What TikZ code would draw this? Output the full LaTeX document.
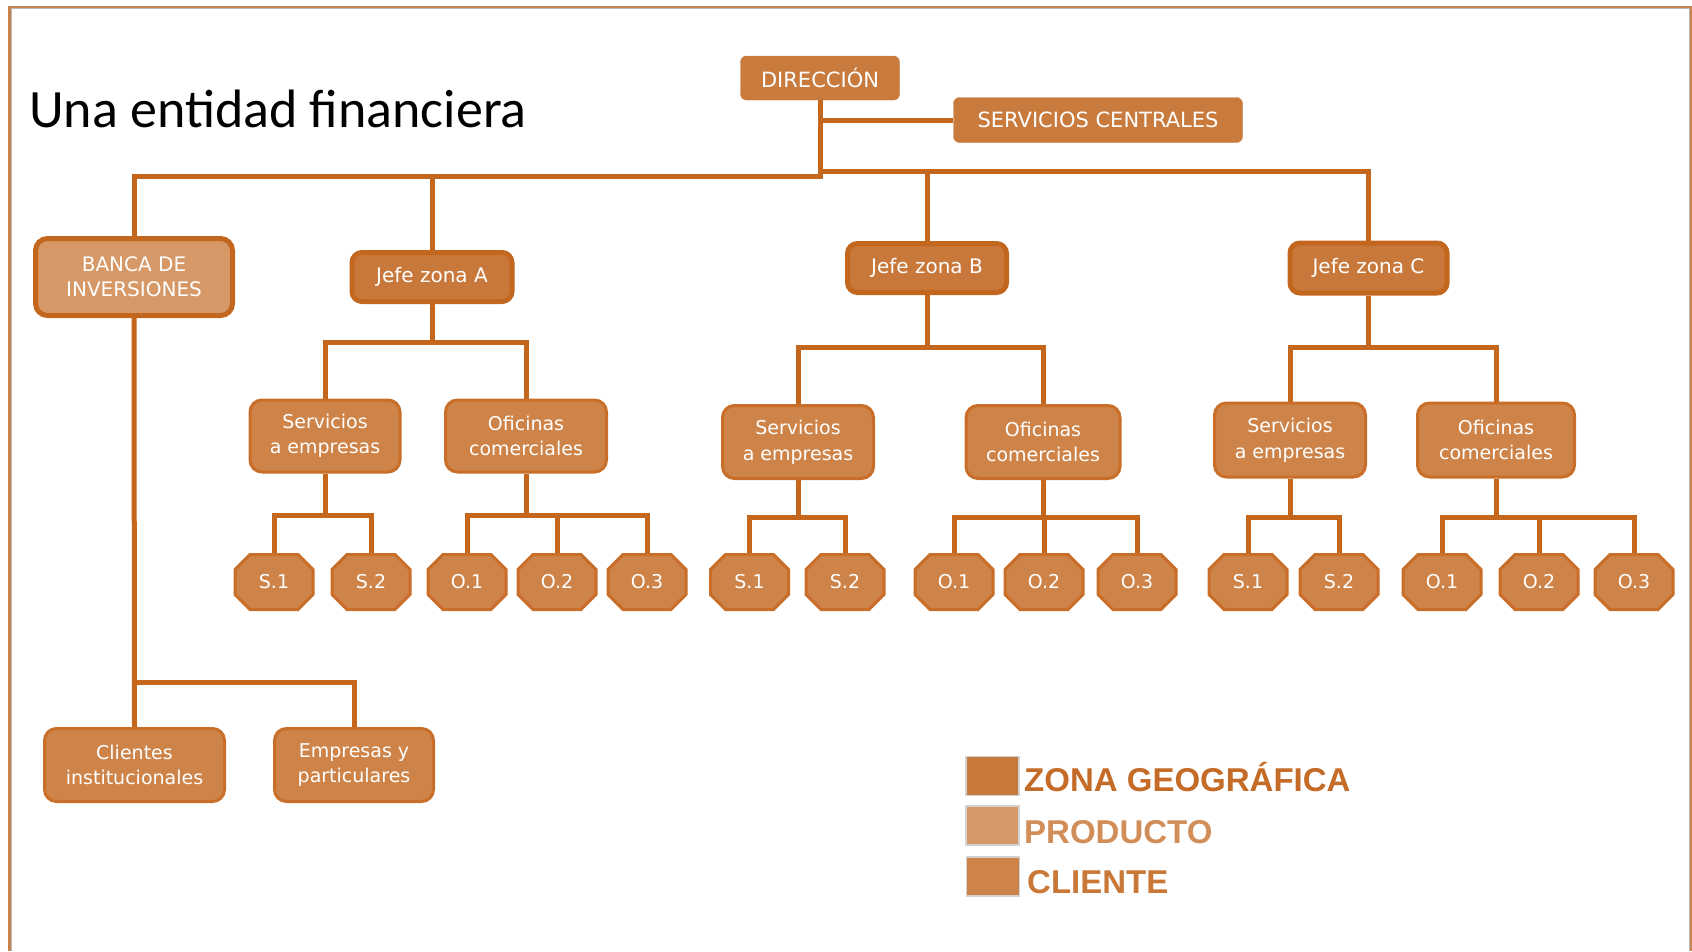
\documentclass[tikz,border=0pt]{standalone}
\usepackage{fontspec}
\setmainfont{DejaVu Sans}
\newfontfamily\titlefont{Carlito}
\newfontfamily\legendfont{Liberation Sans}

\definecolor{lineC}{HTML}{C4661C}
\definecolor{zoneC}{HTML}{C8783A}
\definecolor{zoneB}{HTML}{C3661E}
\definecolor{prodC}{HTML}{D69866}
\definecolor{cliC}{HTML}{CE8448}
\definecolor{cliB}{HTML}{C86E28}
\definecolor{topC}{HTML}{C97B3D}
\definecolor{frameC}{HTML}{C58350}
\definecolor{zoneT}{HTML}{C46B28}
\definecolor{prodT}{HTML}{D28E58}
\definecolor{cliT}{HTML}{C97838}

\pgfdeclarelayer{bg}
\pgfsetlayers{bg,main}

\tikzset{
  conn/.style={draw=lineC, line width=5pt},
  headbox/.style={rectangle, rounded corners=6pt, fill=topC, draw=topC,
    text=white, font=\fontsize{21}{25}\selectfont, inner sep=0pt},
  zonebox/.style={rectangle, rounded corners=10pt, fill=zoneC, draw=zoneB,
    line width=5pt, text=white, font=\fontsize{20}{24}\selectfont,
    inner sep=0pt, minimum height=49pt},
  prodbox/.style={rectangle, rounded corners=12pt, fill=prodC, draw=zoneB,
    line width=5pt, text=white, align=center,
    font=\fontsize{20}{25}\selectfont, inner sep=0pt},
  unitbox/.style={rectangle, rounded corners=12pt, fill=cliC, draw=cliB,
    line width=3pt, text=white, align=center,
    font=\fontsize{19}{25.5}\selectfont, inner sep=0pt, minimum height=72pt},
  octlabel/.style={rectangle, inner sep=0pt, minimum width=78pt,
    minimum height=55pt, text=white, font=\fontsize{19}{22}\selectfont},
  octshape/.style={fill=cliC, draw=cliB, line width=3pt, line join=miter},
  legbox/.style={rectangle, inner sep=0pt, minimum width=53pt,
    minimum height=39pt, draw=gray!35, line width=1.2pt},
  legtext/.style={anchor=base west, inner sep=0pt,
    font=\legendfont\bfseries\fontsize{33}{36}\selectfont},
}

% octagonal unit: name, x, y, label
\newcommand\octunit[4]{%
  \begin{scope}[shift={(#2,#3)}]
    \path[octshape] (-24,-27.5) -- (24,-27.5) -- (39,-12.5) -- (39,12.5)
      -- (24,27.5) -- (-24,27.5) -- (-39,12.5) -- (-39,-12.5) -- cycle;
  \end{scope}
  \node[octlabel] (#1) at (#2,#3) {#4};
}

\begin{document}
\begin{tikzpicture}[x=1pt, y=-1pt, line join=miter]
\useasboundingbox (0,0) rectangle (1692,951);

% page frame
\draw[gray!55, line width=0.8pt] (11,951) -- (11,8.8) -- (1689,8.8) -- (1689,951);
\draw[frameC, line width=2.6pt] (9.3,951) -- (9.3,7) -- (1691,7) -- (1691,951);

% title
\node[anchor=base west, inner sep=0pt, font=\titlefont\fontsize{54}{60}\selectfont]
  (title) at (29,127) {Una entidad financiera};

% top level
\node[headbox, minimum width=159pt, minimum height=44pt] (dir) at (820,78) {DIRECCIÓN};
\node[headbox, minimum width=289pt, minimum height=45pt] (sc) at (1098,120) {SERVICIOS CENTRALES};

% second level
\node[prodbox, minimum width=197pt, minimum height=77pt] (banca) at (134,277)
  {BANCA DE\\INVERSIONES};
\node[zonebox, minimum width=160pt] (jA) at (432,277) {Jefe zona A};
\node[zonebox, minimum width=159pt] (jB) at (927,268) {Jefe zona B};
\node[zonebox, minimum width=157pt, minimum height=50pt] (jC) at (1368.5,268) {Jefe zona C};

% third level
\node[unitbox, minimum width=150pt] (sA) at (325,436) {Servicios\\a empresas};
\node[unitbox, minimum width=161pt] (oA) at (526,436) {Oficinas\\comerciales};
\node[unitbox, minimum width=151pt, minimum height=73pt] (sB) at (798,442) {Servicios\\a empresas};
\node[unitbox, minimum width=154pt, minimum height=73pt] (oB) at (1043,442) {Oficinas\\comerciales};
\node[unitbox, minimum width=151pt, minimum height=74pt] (sC) at (1290,440) {Servicios\\a empresas};
\node[unitbox, minimum width=157pt, minimum height=74pt] (oC) at (1496,440) {Oficinas\\comerciales};

% client branch
\node[unitbox, minimum width=180pt, minimum height=73pt] (cli) at (134.5,765)
  {Clientes\\institucionales};
\node[unitbox, minimum width=159pt, minimum height=73pt] (emp) at (354,765)
  {Empresas y\\particulares};

% offices and services units
\octunit{aS1}{274}{582}{S.1}
\octunit{aS2}{371}{582}{S.2}
\octunit{aO1}{467}{582}{O.1}
\octunit{aO2}{557}{582}{O.2}
\octunit{aO3}{647}{582}{O.3}
\octunit{bS1}{749.5}{582}{S.1}
\octunit{bS2}{845}{582}{S.2}
\octunit{bO1}{954}{582}{O.1}
\octunit{bO2}{1044}{582}{O.2}
\octunit{bO3}{1137}{582}{O.3}
\octunit{cS1}{1248}{582}{S.1}
\octunit{cS2}{1339}{582}{S.2}
\octunit{cO1}{1442}{582}{O.1}
\octunit{cO2}{1539}{582}{O.2}
\octunit{cO3}{1634}{582}{O.3}

% legend
\node[legbox, fill=zoneC] (kz) at (992.5,776) {};
\node[legbox, fill=prodC] (kp) at (992.5,825.5) {};
\node[legbox, fill=cliC]  (kc) at (993,876.5) {};
\node[legtext, text=zoneT] (tz) at (1024,791) {ZONA GEOGRÁFICA};
\node[legtext, text=prodT] (tp) at (1024,843) {PRODUCTO};
\node[legtext, text=cliT]  (tc) at (1027,893) {CLIENTE};

% bus points
\coordinate (hubS) at (820,120);
\coordinate (hubL) at (820,176);
\coordinate (hubR) at (820,171.5);
\coordinate (busA) at (432,342);
\coordinate (busB) at (927,347);
\coordinate (busC) at (1368.5,347);
\coordinate (bsA) at (325,515);
\coordinate (boA) at (526,515);
\coordinate (bsB) at (798,517);
\coordinate (boB) at (1043,517);
\coordinate (bsC) at (1290,517);
\coordinate (boC) at (1496,517);
\coordinate (cbus) at (134,682);

\begin{pgfonlayer}{bg}
  % direction
  \draw[conn] (dir.south) -- (hubL) -| (banca.north);
  \draw[conn] (hubS) -- (sc.west);
  \draw[conn] (jA.north |- hubL) -- (jA.north);
  \draw[conn] (hubR) -| (jC.north);
  \draw[conn] (jB.north |- hubR) -- (jB.north);
  % zone A
  \draw[conn] (jA.south) -- (busA) -| (sA.north);
  \draw[conn] (busA) -| (oA.north);
  \draw[conn] (sA.south) -- (bsA) -| (aS1.north);
  \draw[conn] (bsA) -| (aS2.north);
  \draw[conn] (oA.south) -- (boA) -| (aO1.north);
  \draw[conn] (boA) -| (aO3.north);
  \draw[conn] (aO2.north |- boA) -- (aO2.north);
  % zone B
  \draw[conn] (jB.south) -- (busB) -| (sB.north);
  \draw[conn] (busB) -| (oB.north);
  \draw[conn] (sB.south) -- (bsB) -| (bS1.north);
  \draw[conn] (bsB) -| (bS2.north);
  \draw[conn] (oB.south) -- (boB) -| (bO1.north);
  \draw[conn] (boB) -| (bO3.north);
  \draw[conn] (bO2.north |- boB) -- (bO2.north);
  % zone C
  \draw[conn] (jC.south) -- (busC) -| (sC.north);
  \draw[conn] (busC) -| (oC.north);
  \draw[conn] (sC.south) -- (bsC) -| (cS1.north);
  \draw[conn] (bsC) -| (cS2.north);
  \draw[conn] (oC.south) -- (boC) -| (cO1.north);
  \draw[conn] (boC) -| (cO3.north);
  \draw[conn] (cO2.north |- boC) -- (cO2.north);
  % clients
  \draw[conn] (banca.south) -- (cli.north);
  \draw[conn] (cbus) -| (emp.north);
\end{pgfonlayer}
\end{tikzpicture}
\end{document}
